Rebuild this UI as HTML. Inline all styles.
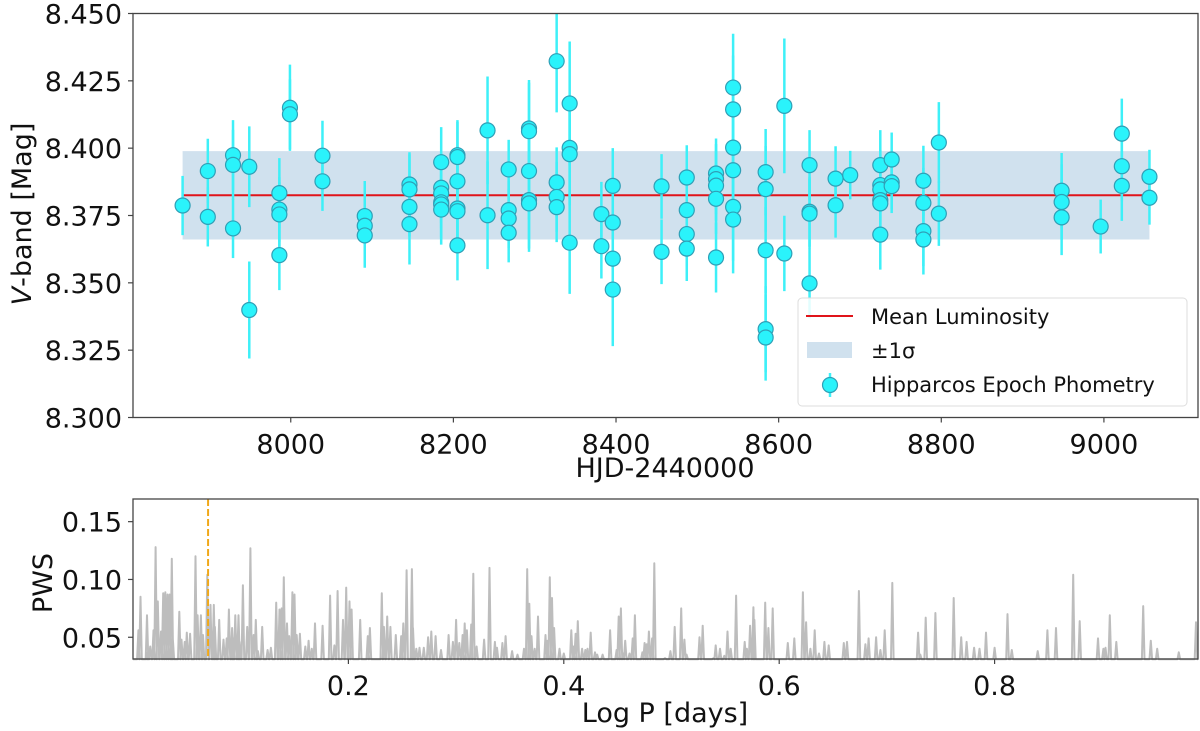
<!DOCTYPE html>
<html><head><meta charset="utf-8"><style>
html,body{margin:0;padding:0;background:#fff;}
svg{display:block;font-family:"DejaVu Sans","Liberation Sans",sans-serif;}
</style></head><body>
<svg id="chart" width="1200" height="731" viewBox="0 0 1200 731" xmlns="http://www.w3.org/2000/svg"></svg>
<script>
const hjd=[7867,7898,7898,7929,7929,7929,7949,7949,7986,7986,7986,7986,7999,7999,8039,8039,8091,8091,8091,8146,8146,8146,8146,
8185,8185,8185,8185,8185,8185,8205,8205,8205,8205,8205,8205,8242,8242,8268,8268,8268,8268,8293,8293,8293,8293,8293,
8327,8327,8327,8327,8343,8343,8343,8343,8382,8382,8396,8396,8396,8396,8456,8456,8487,8487,8487,8487,
8523,8523,8523,8523,8523,8544,8544,8544,8544,8544,8544,8584,8584,8584,8584,8584,8607,8607,8638,8638,8638,8638,
8670,8670,8688,8725,8725,8725,8725,8725,8725,8739,8739,8739,8778,8778,8778,8778,8797,8797,8948,8948,8948,8996,9022,9022,9022,9056,9056];
const mag=[8.3787,8.3915,8.3745,8.3974,8.3938,8.3702,8.3931,8.3399,8.3833,8.3772,8.3754,8.3603,8.415,8.4126,8.3972,8.3877,8.3748,8.3712,8.3676,8.3865,8.3847,8.3782,8.3718,
8.3948,8.3853,8.3832,8.3799,8.3791,8.3772,8.3974,8.3967,8.3877,8.3776,8.3766,8.3639,8.4066,8.3751,8.3921,8.377,8.3739,8.3686,8.4073,8.4063,8.3915,8.3807,8.3795,
8.4323,8.3873,8.3819,8.3781,8.4166,8.4001,8.3978,8.3649,8.3755,8.3636,8.386,8.3724,8.359,8.3475,8.3858,8.3615,8.3891,8.377,8.3681,8.3627,
8.3906,8.3885,8.3861,8.3812,8.3594,8.4225,8.4144,8.4002,8.3918,8.3782,8.3735,8.3911,8.3848,8.3621,8.3328,8.3297,8.4157,8.3609,8.3937,8.3764,8.3757,8.3498,
8.3887,8.3788,8.39,8.3937,8.3863,8.3847,8.3807,8.3795,8.3679,8.3958,8.3873,8.3859,8.3879,8.3797,8.3692,8.3661,8.4021,8.3757,8.3842,8.38,8.3743,8.3709,8.4054,8.3933,8.386,8.3894,8.3816];
const err=[0.011,0.012,0.011,0.013,0.013,0.011,0.015,0.018,0.013,0.012,0.012,0.013,0.016,0.013,0.013,0.011,0.013,0.012,0.012,0.012,0.013,0.011,0.015,
0.013,0.013,0.013,0.013,0.013,0.013,0.013,0.013,0.013,0.013,0.013,0.013,0.02,0.02,0.011,0.011,0.011,0.011,0.018,0.018,0.018,0.018,0.018,
0.019,0.013,0.013,0.013,0.023,0.019,0.019,0.019,0.012,0.012,0.014,0.014,0.014,0.021,0.012,0.012,0.012,0.012,0.012,0.012,
0.013,0.013,0.013,0.013,0.013,0.02,0.02,0.02,0.02,0.02,0.02,0.016,0.016,0.016,0.016,0.016,0.025,0.014,0.013,0.013,0.013,0.013,
0.012,0.012,0.009,0.013,0.013,0.013,0.013,0.013,0.013,0.01,0.01,0.01,0.013,0.013,0.013,0.013,0.015,0.012,0.014,0.014,0.014,0.01,0.013,0.013,0.013,0.01,0.01];
const meanMag=8.3825, sigmaLo=8.3661, sigmaHi=8.3989, bandStart=7867, bandEnd=9056;
const xTicksTop=[8000,8200,8400,8600,8800,9000];
const yTicksTop=[8.300,8.325,8.350,8.375,8.400,8.425,8.450];
const logP=[0.005,0.007,0.013,0.014,0.016,0.019,0.021,0.023,0.026,0.028,0.030,0.032,0.034,0.036,0.037,0.043,0.045,0.048,0.050,0.053,0.058,0.060,0.063,0.065,0.069,0.072,0.075,0.076,0.080,0.084,0.087,0.089,0.092,0.093,0.095,0.098,0.099,0.102,0.106,0.109,0.112,0.114,0.116,0.120,0.125,0.128,0.133,0.136,0.138,0.140,0.143,0.145,0.148,0.150,0.152,0.155,0.160,0.163,0.166,0.169,0.176,0.183,0.187,0.190,0.195,0.198,0.201,0.203,0.211,0.218,0.220,0.231,0.233,0.236,0.239,0.244,0.249,0.251,0.254,0.259,0.260,0.263,0.266,0.270,0.274,0.277,0.281,0.286,0.293,0.297,0.300,0.303,0.306,0.308,0.310,0.314,0.316,0.319,0.326,0.331,
0.336,0.338,0.343,0.346,0.352,0.357,0.363,0.366,0.368,0.370,0.373,0.376,0.383,0.385,0.387,0.389,0.391,0.396,0.400,0.407,0.409,0.411,0.413,0.417,0.420,0.422,0.425,0.429,0.431,0.436,0.443,0.449,0.451,0.453,0.455,0.457,0.461,0.464,0.466,0.473,0.475,0.477,0.479,0.482,0.484,0.494,0.499,0.503,0.509,0.512,0.514,0.526,0.529,0.539,0.541,0.545,0.549,0.552,0.555,0.560,0.568,0.570,0.573,0.576,0.577,0.587,0.590,0.594,0.608,0.614,0.622,0.625,0.629,0.633,0.637,0.642,0.646,0.660,
0.663,0.674,0.680,0.683,0.690,0.694,0.698,0.705,0.729,0.731,0.736,0.745,0.762,0.769,0.774,0.781,0.786,0.792,0.800,0.812,0.816,0.840,0.849,0.857,0.873,0.879,0.896,0.901,0.903,0.907,0.913,0.938,0.945,0.951,0.971,0.987];
const power=[0.056,0.085,0.069,0.038,0.042,0.056,0.128,0.081,0.055,0.088,0.089,0.087,0.087,0.118,0.049,0.072,0.048,0.046,0.054,0.053,0.120,0.069,0.069,0.052,0.104,0.078,0.078,0.059,0.065,0.048,0.049,0.074,0.058,0.049,0.069,0.069,0.046,0.095,0.059,0.127,0.052,0.065,0.038,0.059,0.039,0.041,0.080,0.074,0.075,0.102,0.062,0.051,0.089,0.087,0.052,0.053,0.042,0.047,0.040,0.062,0.060,0.086,0.043,0.090,0.065,0.093,0.081,0.074,0.065,0.051,0.058,0.088,0.059,0.068,0.059,0.052,0.051,0.062,0.108,0.109,0.058,0.040,0.041,0.041,0.050,0.055,0.051,0.039,0.052,0.046,0.065,0.045,0.052,0.062,0.056,0.061,0.105,0.042,0.048,0.110,
0.046,0.041,0.045,0.051,0.038,0.035,0.040,0.109,0.079,0.051,0.040,0.068,0.052,0.047,0.102,0.084,0.058,0.040,0.036,0.056,0.042,0.053,0.064,0.040,0.039,0.040,0.054,0.037,0.035,0.035,0.056,0.039,0.068,0.075,0.036,0.047,0.036,0.049,0.069,0.037,0.045,0.044,0.055,0.049,0.114,0.032,0.038,0.059,0.075,0.048,0.035,0.050,0.060,0.032,0.043,0.040,0.034,0.055,0.040,0.086,0.046,0.040,0.060,0.076,0.065,0.080,0.058,0.075,0.045,0.049,0.089,0.063,0.040,0.056,0.036,0.046,0.043,0.045,
0.046,0.090,0.044,0.049,0.050,0.039,0.056,0.097,0.054,0.035,0.067,0.071,0.084,0.050,0.046,0.041,0.040,0.054,0.041,0.070,0.039,0.038,0.056,0.058,0.104,0.064,0.049,0.040,0.041,0.069,0.046,0.077,0.047,0.040,0.037,0.063];
const bestLogP=0.0697, pwsBase=0.031;
const xTicksBot=[0.2,0.4,0.6,0.8];
const yTicksBot=[0.05,0.10,0.15];
const yTickLabelsBot=["0.05","0.10","0.15"];

const NS="http://www.w3.org/2000/svg";
const svg=document.getElementById('chart');
function mk(tag,attrs,parent){const e=document.createElementNS(NS,tag);for(const k in attrs)e.setAttribute(k,attrs[k]);(parent||svg).appendChild(e);return e;}
// top axes
const T={l:133,r:1198,t:13.5,b:417.5,x0:7806,x1:9115.7,y0:8.300,y1:8.450};
const xT=v=>T.l+(v-T.x0)/(T.x1-T.x0)*(T.r-T.l);
const yT=v=>T.b-(v-T.y0)/(T.y1-T.y0)*(T.b-T.t);
const B={l:133,r:1198,t:499,b:659,x0:0,x1:0.98886,y0:0.0312,y1:0.1696};
const xB=v=>B.l+(v-B.x0)/(B.x1-B.x0)*(B.r-B.l);
const yB=v=>B.b-(v-B.y0)/(B.y1-B.y0)*(B.b-B.t);

const gTop=mk('g',{});


const band=mk('rect',{x:xT(bandStart),y:yT(sigmaHi),width:xT(bandEnd)-xT(bandStart),height:yT(sigmaLo)-yT(sigmaHi),fill:'#d0e1ee'},gTop);


const ml=mk('line',{x1:xT(bandStart),x2:xT(bandEnd),y1:yT(meanMag),y2:yT(meanMag),stroke:'#e0141a','stroke-width':2},gTop);


for(let i=0;i<hjd.length;i++){
  const x=xT(hjd[i]);
  const lo=Math.max(T.t,yT(mag[i]+err[i]));
  const eb=mk('line',{x1:x,x2:x,y1:lo,y2:yT(mag[i]-err[i]),stroke:'#3ef0f8','stroke-width':2.5},gTop);
  
  
}
for(let i=0;i<hjd.length;i++){
  const c=mk('circle',{cx:xT(hjd[i]),cy:yT(mag[i]),r:7.5,fill:'#2af3fb',stroke:'#2f9fb6','stroke-width':1.2},gTop);
  
  
}
const fT=mk('rect',{x:T.l,y:T.t,width:T.r-T.l,height:T.b-T.t,fill:'none',stroke:'#444','stroke-width':1.3},gTop);


xTicksTop.forEach(v=>{
  const x=xT(v);
  mk('line',{x1:x,x2:x,y1:T.b,y2:T.b+5,stroke:'#444','stroke-width':1.2},gTop);
  const t=mk('text',{x:x,y:T.b+36,'font-size':27,'text-anchor':'middle',fill:'#111'},gTop);
  t.textContent=String(v);
  
  
});
yTicksTop.forEach(v=>{
  const y=yT(v);
  mk('line',{x1:T.l-5,x2:T.l,y1:y,y2:y,stroke:'#444','stroke-width':1.2},gTop);
  const t=mk('text',{x:T.l-11,y:y+10,'font-size':27,'text-anchor':'end',fill:'#111'},gTop);
  t.textContent=v.toFixed(3);
  
  
});
const xl=mk('text',{x:665,y:477,'font-size':27,'text-anchor':'middle',fill:'#111'},gTop);
xl.textContent='HJD-2440000';


const yl=mk('text',{x:0,y:0,'font-size':27,'text-anchor':'middle',fill:'#111',transform:'translate(31,214) rotate(-90)'},gTop);
yl.innerHTML='<tspan font-style="italic">V</tspan>-band [Mag]';


// legend
const lg=mk('g',{},gTop);


mk('rect',{x:798,y:298,width:389,height:108,rx:4,fill:'#fff','fill-opacity':0.85,stroke:'#ddd','stroke-width':1},lg);
mk('line',{x1:806,x2:853,y1:316,y2:316,stroke:'#e0141a','stroke-width':2},lg);
mk('rect',{x:807,y:342,width:45,height:16,fill:'#d0e1ee'},lg);
mk('line',{x1:830,x2:830,y1:373,y2:397,stroke:'#3ef0f8','stroke-width':2.5},lg);
mk('circle',{cx:830,cy:385,r:7.5,fill:'#2af3fb',stroke:'#2f9fb6','stroke-width':1.2},lg);
[['Mean Luminosity',324],['\u00B11\u03C3',358],['Hipparcos Epoch Phometry',392]].forEach(([s,y])=>{
  const t=mk('text',{x:871,y:y,'font-size':21,fill:'#111'},lg);
  t.textContent=s;
  
  
});

// bottom periodogram
const gB=mk('g',{});


let pts=[[B.l,yB(pwsBase)]];
for(let i=0;i<logP.length;i++){
  const x=xB(logP[i]);
  pts.push([x-1.3,yB(pwsBase)],[x,yB(power[i])],[x+1.3,yB(pwsBase)]);
}
pts.push([B.r,yB(pwsBase)]);
const pl=mk('polyline',{points:pts.map(p=>p[0].toFixed(1)+','+p[1].toFixed(1)).join(' '),fill:'none',stroke:'#bdbdbd','stroke-width':2,'stroke-linejoin':'round'},gB);


const ol=mk('line',{x1:xB(bestLogP),x2:xB(bestLogP),y1:B.t,y2:B.b,stroke:'#f0a81a','stroke-width':2,'stroke-dasharray':'7,3'},gB);


const fB=mk('rect',{x:B.l,y:B.t,width:B.r-B.l,height:B.b-B.t,fill:'none',stroke:'#444','stroke-width':1.3},gB);


xTicksBot.forEach(v=>{
  const x=xB(v);
  mk('line',{x1:x,x2:x,y1:B.b,y2:B.b+5,stroke:'#444','stroke-width':1.2},gB);
  const t=mk('text',{x:x,y:B.b+36,'font-size':27,'text-anchor':'middle',fill:'#111'},gB);
  t.textContent=String(v);
  
  
});
yTicksBot.forEach((v,i)=>{
  const y=yB(v);
  mk('line',{x1:B.l-5,x2:B.l,y1:y,y2:y,stroke:'#444','stroke-width':1.2},gB);
  const t=mk('text',{x:B.l-11,y:y+10,'font-size':27,'text-anchor':'end',fill:'#111'},gB);
  t.textContent=yTickLabelsBot[i];
  
  
});
const bx=mk('text',{x:665,y:722,'font-size':27,'text-anchor':'middle',fill:'#111'},gB);
bx.textContent='Log P [days]';


const by=mk('text',{x:0,y:0,'font-size':27,'text-anchor':'middle',fill:'#111',transform:'translate(52,583) rotate(-90)'},gB);
by.textContent='PWS';


</script>
</body></html>
